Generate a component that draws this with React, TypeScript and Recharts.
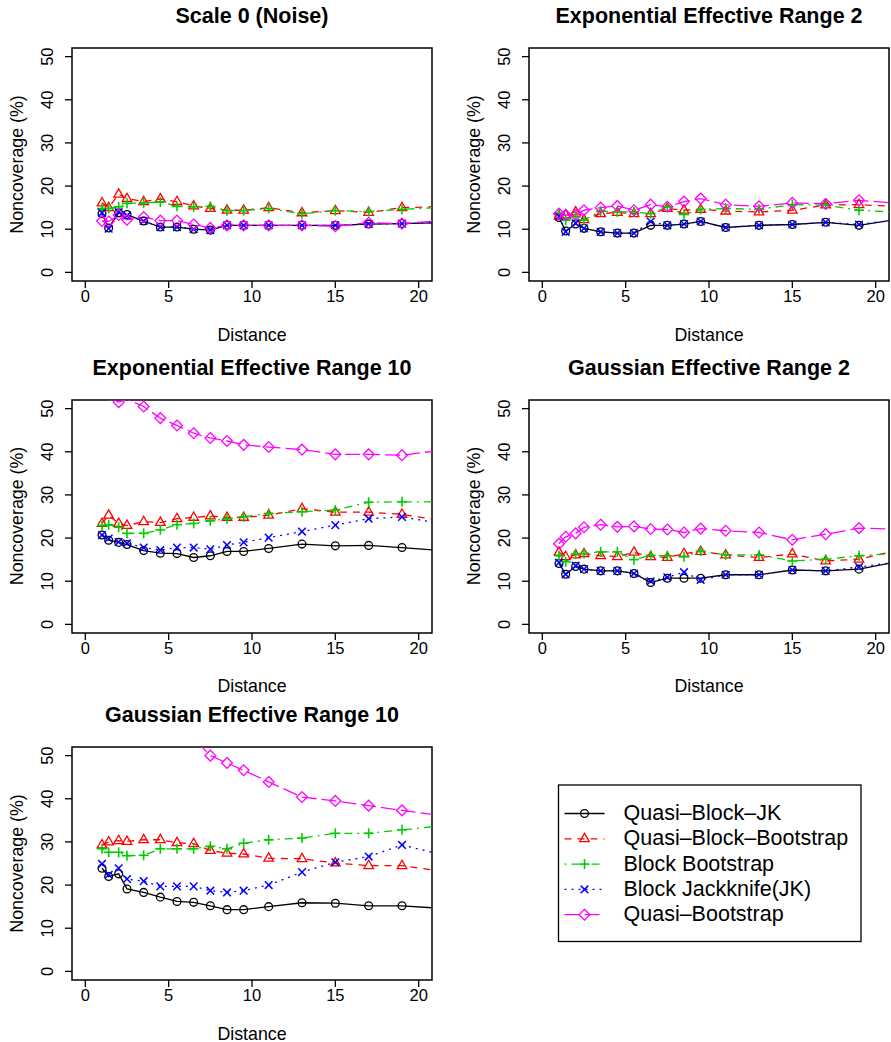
import React from 'react';
import { LineChart, Line, XAxis, YAxis, ReferenceArea } from 'recharts';

// ---------- data ----------
const distances = [1, 1.4, 2, 2.5, 3.5, 4.5, 5.5, 6.5, 7.5, 8.5, 9.5, 11, 13, 15, 17, 19, 21];

// Panel 1: Scale 0 (Noise)
const qbjk1 = [13.6, 10.3, 13.8, 13.4, 11.9, 10.5, 10.5, 10.0, 9.8, 10.9, 10.9, 10.9, 10.9, 10.9, 11.2, 11.3, 11.5];
const qbbs1 = [16.1, 15.0, 18.1, 17.1, 16.4, 17.0, 16.4, 15.4, 14.8, 14.4, 14.4, 15.0, 13.8, 14.3, 13.9, 15.0, 15.2];
const bbs1 = [14.8, 14.8, 15.2, 16.0, 16.1, 16.3, 15.3, 15.2, 15.3, 14.3, 14.3, 14.8, 13.6, 14.3, 14.1, 14.6, 15.0];
const bjk1 = [13.8, 10.1, 14.0, 13.2, 11.9, 10.5, 10.5, 10.0, 9.8, 10.9, 10.9, 10.9, 10.9, 10.9, 11.2, 11.3, 11.5];
const qbs1 = [11.9, 11.8, 13.3, 12.2, 12.8, 12.0, 12.0, 11.1, 10.3, 10.9, 10.9, 10.9, 10.9, 10.7, 11.5, 11.3, 11.9];

// Panel 2: Exponential Effective Range 2
const qbjk2 = [12.7, 9.6, 11.2, 10.2, 9.4, 9.1, 9.1, 10.9, 10.9, 11.2, 11.8, 10.4, 10.9, 11.1, 11.6, 10.9, 12.1];
const qbbs2 = [13.0, 13.3, 14.0, 12.2, 13.6, 13.9, 13.6, 13.6, 14.8, 14.4, 14.6, 14.2, 14.0, 14.4, 15.6, 15.7, 15.3];
const bbs2 = [13.6, 12.1, 12.9, 12.1, 14.2, 14.0, 14.0, 13.6, 15.2, 13.4, 14.6, 14.8, 14.6, 15.7, 15.6, 14.4, 14.0];
const bjk2 = [13.0, 9.4, 11.4, 10.2, 9.4, 9.1, 9.1, 11.8, 10.9, 11.2, 11.8, 10.4, 10.9, 11.1, 11.6, 11.1, 12.1];
const qbs2 = [13.6, 13.3, 13.3, 14.4, 15.0, 15.4, 14.4, 15.7, 15.2, 16.4, 17.1, 15.7, 15.3, 16.1, 15.9, 16.7, 16.1];

// Panel 3: Exponential Effective Range 10
const qbjk3 = [20.7, 19.5, 19.0, 18.5, 17.1, 16.5, 16.4, 15.5, 15.9, 16.9, 16.9, 17.6, 18.6, 18.2, 18.3, 17.8, 17.2];
const qbbs3 = [23.4, 25.3, 23.4, 22.9, 23.8, 23.6, 24.5, 24.8, 25.1, 24.8, 24.8, 25.3, 26.8, 26.0, 26.0, 25.5, 24.3];
const bbs3 = [22.9, 23.1, 22.5, 21.1, 21.1, 21.9, 23.1, 23.4, 24.0, 24.5, 24.9, 25.7, 26.1, 26.5, 28.3, 28.4, 28.4];
const bjk3 = [20.7, 19.9, 19.1, 18.8, 17.8, 17.2, 17.8, 17.8, 17.4, 18.4, 19.0, 20.1, 21.5, 23.0, 24.5, 24.9, 23.6];
const qbs3 = [54.5, 52.1, 51.5, 52.2, 50.5, 47.8, 46.1, 44.3, 43.2, 42.5, 41.6, 41.1, 40.5, 39.4, 39.4, 39.2, 40.2];

// Panel 4: Gaussian Effective Range 2
const qbjk4 = [14.1, 11.6, 13.4, 12.8, 12.4, 12.4, 11.8, 9.7, 10.7, 10.7, 10.7, 11.5, 11.5, 12.6, 12.4, 12.8, 14.3];
const qbbs4 = [16.7, 15.7, 16.1, 16.4, 15.9, 15.7, 16.7, 15.7, 15.5, 16.4, 16.9, 16.1, 15.5, 16.3, 14.7, 15.1, 16.9];
const bbs4 = [15.9, 14.5, 16.3, 16.4, 16.8, 16.8, 15.0, 16.0, 15.9, 15.7, 17.0, 16.1, 16.1, 14.7, 15.1, 15.9, 16.4];
const bjk4 = [14.3, 11.6, 13.6, 12.8, 12.4, 12.4, 11.8, 10.0, 10.9, 12.1, 10.3, 11.5, 11.5, 12.6, 12.4, 13.3, 14.3];
const qbs4 = [18.7, 20.3, 21.1, 22.5, 23.1, 22.6, 22.7, 22.1, 22.0, 21.3, 22.2, 21.7, 21.3, 19.6, 20.9, 22.3, 22.1];

// Panel 5: Gaussian Effective Range 10
const qbjk5 = [23.9, 22.0, 22.6, 19.1, 18.3, 17.2, 16.2, 16.0, 15.2, 14.3, 14.3, 15.0, 15.9, 15.8, 15.2, 15.2, 14.7];
const qbbs5 = [29.3, 30.0, 30.3, 30.1, 30.5, 30.5, 29.8, 29.6, 28.0, 27.4, 27.2, 26.2, 26.1, 25.1, 24.5, 24.5, 23.4];
const bbs5 = [28.4, 27.6, 27.6, 26.8, 26.9, 28.4, 28.4, 28.4, 29.0, 28.4, 29.7, 30.5, 30.9, 32.0, 32.0, 32.8, 33.6];
const bjk5 = [24.9, 22.4, 23.9, 21.4, 20.9, 19.7, 19.7, 19.7, 18.7, 18.3, 18.7, 20.0, 23.0, 25.3, 26.6, 29.3, 27.4];
const qbs5 = [70, 68, 66, 64, 61, 58, 56, 54, 50.0, 48.3, 46.6, 43.9, 40.4, 39.5, 38.4, 37.3, 36.3];

const panelTitles = [
  'Scale 0 (Noise)',
  'Exponential Effective Range 2',
  'Exponential Effective Range 10',
  'Gaussian Effective Range 2',
  'Gaussian Effective Range 10',
];
const panelSeries = [
  [qbjk1, qbbs1, bbs1, bjk1, qbs1],
  [qbjk2, qbbs2, bbs2, bjk2, qbs2],
  [qbjk3, qbbs3, bbs3, bjk3, qbs3],
  [qbjk4, qbbs4, bbs4, bjk4, qbs4],
  [qbjk5, qbbs5, bbs5, bjk5, qbs5],
];

const seriesNames = ['Quasi–Block–JK', 'Quasi–Block–Bootstrap', 'Block Bootstrap', 'Block Jackknife(JK)', 'Quasi–Bootstrap'];
const seriesColors = ['#000000', '#FF0000', '#00CD00', '#0000FF', '#FF00FF'];
const seriesDash = [undefined, '7 6', '2 5 8 5', '2 5', '15 5'];
const seriesShapes = ['circle', 'triangle', 'plus', 'cross', 'diamond'];

const xTicks = [0, 5, 10, 15, 20];
const yTicks = [0, 10, 20, 30, 40, 50];
const X_DOMAIN: [number, number] = [-0.8, 20.8];
const Y_DOMAIN: [number, number] = [-2, 52];

// ---------- layout ----------
const FONT = '"Liberation Sans", Arial, Helvetica, sans-serif';
const BOX_W = 360;
const BOX_H = 233;
const colLeft = [72, 529];
const rowTop = [48, 399.5, 747];
const panelPos = [
  [0, 0], [1, 0], [0, 1], [1, 1], [0, 2],
];
const ML = 12, YW = 60, MT = 48, MR = 14, MB = 36, XH = 30;
const CHART_W = ML + YW + BOX_W + MR;
const CHART_H = MT + BOX_H + XH + MB;

function Marker({ shape, color, cx, cy }: any) {
  const sw = 1.3;
  switch (shape) {
    case 'circle':
      return <circle cx={cx} cy={cy} r={3.9} fill="none" stroke={color} strokeWidth={sw} />;
    case 'triangle': {
      const p = `${cx},${cy - 5.4} ${cx - 4.8},${cy + 2.9} ${cx + 4.8},${cy + 2.9}`;
      return <polygon points={p} fill="none" stroke={color} strokeWidth={sw} />;
    }
    case 'plus':
      return (
        <g stroke={color} strokeWidth={sw + 0.3}>
          <line x1={cx - 5} y1={cy} x2={cx + 5} y2={cy} />
          <line x1={cx} y1={cy - 5} x2={cx} y2={cy + 5} />
        </g>
      );
    case 'cross':
      return (
        <g stroke={color} strokeWidth={sw + 0.2}>
          <line x1={cx - 3.8} y1={cy - 3.8} x2={cx + 3.8} y2={cy + 3.8} />
          <line x1={cx - 3.8} y1={cy + 3.8} x2={cx + 3.8} y2={cy - 3.8} />
        </g>
      );
    case 'diamond': {
      const r = 5.4;
      const p = `${cx},${cy - r} ${cx + r},${cy} ${cx},${cy + r} ${cx - r},${cy}`;
      return <polygon points={p} fill="none" stroke={color} strokeWidth={sw} />;
    }
    default:
      return null;
  }
}

const makeDot = (si: number) => (props: any) => {
  const { cx, cy, payload, index } = props;
  const v = payload[`s${si}`];
  const key = `dot-${si}-${index}`;
  if (
    payload.d > X_DOMAIN[1] || payload.d < X_DOMAIN[0] ||
    v > Y_DOMAIN[1] || v < Y_DOMAIN[0] || cx == null || cy == null
  ) {
    return <g key={key} />;
  }
  return (
    <g key={key}>
      <Marker shape={seriesShapes[si]} color={seriesColors[si]} cx={cx} cy={cy} />
    </g>
  );
};

const XTick = (props: any) => (
  <text x={props.x} y={props.y + 12} textAnchor="middle" fontSize={16.5} fontFamily={FONT} fill="#000">
    {props.payload.value}
  </text>
);
const YTick = (props: any) => {
  const x = props.x - 10;
  const y = props.y;
  return (
    <text x={x} y={y} transform={`rotate(-90, ${x}, ${y})`} textAnchor="middle" fontSize={16.5} fontFamily={FONT} fill="#000">
      {props.payload.value}
    </text>
  );
};

function Panel({ pi }: { pi: number }) {
  const [c, r] = panelPos[pi];
  const left = colLeft[c] - ML - YW;
  const top = rowTop[r] - MT;
  const series = panelSeries[pi];
  const data = distances.map((d, i) => {
    const row: any = { d };
    series.forEach((arr, si) => { row[`s${si}`] = arr[i]; });
    return row;
  });
  return (
    <div style={{ position: 'absolute', left, top, width: CHART_W, height: CHART_H }}>
      <LineChart width={CHART_W} height={CHART_H} data={data} margin={{ top: MT, right: MR, bottom: MB, left: ML }}>
        <XAxis
          dataKey="d"
          type="number"
          domain={X_DOMAIN}
          allowDataOverflow
          ticks={xTicks}
          interval={0}
          height={XH}
          axisLine={false}
          tickLine={{ stroke: '#000', strokeWidth: 1.3 }}
          tickSize={7}
          tick={<XTick />}
        />
        <YAxis
          type="number"
          domain={Y_DOMAIN}
          allowDataOverflow
          ticks={yTicks}
          interval={0}
          width={YW}
          axisLine={false}
          tickLine={{ stroke: '#000', strokeWidth: 1.3 }}
          tickSize={7}
          tick={<YTick />}
        />
        <ReferenceArea
          x1={X_DOMAIN[0]}
          x2={X_DOMAIN[1]}
          y1={Y_DOMAIN[0]}
          y2={Y_DOMAIN[1]}
          fill="none"
          fillOpacity={0}
          stroke="#000"
          strokeWidth={1.5}
          ifOverflow="visible"
        />
        {series.map((_, si) => (
          <Line
            key={si}
            type="linear"
            dataKey={`s${si}`}
            stroke={seriesColors[si]}
            strokeWidth={1.3}
            strokeDasharray={seriesDash[si]}
            dot={makeDot(si)}
            activeDot={false}
            isAnimationActive={false}
            connectNulls
          />
        ))}
      </LineChart>
    </div>
  );
}

function Overlay() {
  const texts: React.ReactNode[] = [];
  panelTitles.forEach((t, pi) => {
    const [c, r] = panelPos[pi];
    const cx = colLeft[c] + BOX_W / 2;
    const top = rowTop[r];
    const bottom = top + BOX_H;
    texts.push(
      <text key={`t${pi}`} x={cx} y={top - 25} textAnchor="middle" fontSize={21.5} fontWeight="bold" fontFamily={FONT} fill="#000">{t}</text>
    );
    texts.push(
      <text key={`xl${pi}`} x={cx} y={bottom + 59.5} textAnchor="middle" fontSize={17.8} fontFamily={FONT} fill="#000">Distance</text>
    );
    const lx = colLeft[c] - 49;
    const ly = top + BOX_H / 2;
    texts.push(
      <text key={`yl${pi}`} x={lx} y={ly} transform={`rotate(-90, ${lx}, ${ly})`} textAnchor="middle" fontSize={17.8} fontFamily={FONT} fill="#000">Noncoverage (%)</text>
    );
  });
  const lgX = 558.5, lgY = 785, lgW = 302.5, lgH = 156.5;
  const rowY0 = 813.5, rowStep = 25.3;
  return (
    <svg width={891} height={1042} style={{ position: 'absolute', left: 0, top: 0, pointerEvents: 'none' }}>
      {texts}
      <rect x={lgX} y={lgY} width={lgW} height={lgH} fill="none" stroke="#000" strokeWidth={1.3} />
      {seriesNames.map((name, si) => {
        const y = rowY0 + si * rowStep;
        return (
          <g key={`lg${si}`}>
            <line x1={564.5} x2={604.5} y1={y} y2={y} stroke={seriesColors[si]} strokeWidth={1.3} strokeDasharray={seriesDash[si]} />
            <Marker shape={seriesShapes[si]} color={seriesColors[si]} cx={584.5} cy={y} />
            <text x={623.5} y={y + 6.5} fontSize={21.5} fontFamily={FONT} fill="#000">{name}</text>
          </g>
        );
      })}
    </svg>
  );
}

export default function App() {
  return (
    <div style={{ position: 'absolute', left: 0, top: 0, width: 891, height: 1042, overflow: 'hidden', background: '#fff' }}>
      {panelTitles.map((_, pi) => <Panel key={pi} pi={pi} />)}
      <Overlay />
    </div>
  );
}
